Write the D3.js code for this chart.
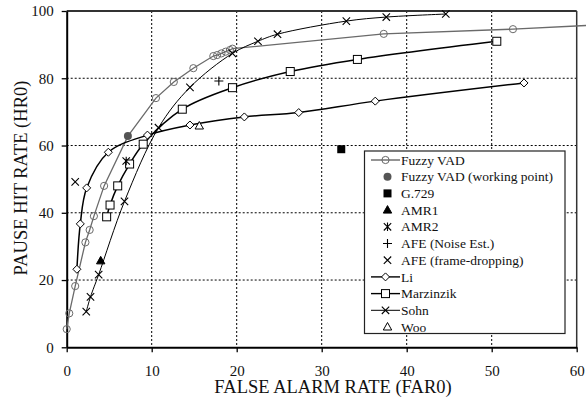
<!doctype html>
<html>
  <head>
    <script src="https://cdn.jsdelivr.net/npm/d3@7"></script>
    <style>
      body { margin: 0; background: #fff; }
      svg text { font-family: "Liberation Serif", "Times New Roman", serif; }
    </style>
  </head>
  <body>
    <script>
    // data (x = FAR0, y = HR0)
    var fuzzyVad = [[0, 5.4], [0.3, 10.1], [1.0, 18.2], [2.2, 31.2], [2.7, 34.9], [3.2, 39.0],
                    [4.4, 48.0], [10.5, 74.1], [12.6, 78.9], [14.9, 83.0], [17.25, 86.6],
                    [17.7, 86.9], [18.2, 87.4], [18.7, 87.9], [19.2, 88.4], [19.5, 88.8],
                    [37.3, 93.2], [52.5, 94.6]];
    var fuzzyTail = [62, 95.8];           // line runs past the frame
    var workingPoint = [[7.2, 62.8]];
    var g729 = [[32.3, 58.9]];
    var amr1 = [[4.0, 25.7]];
    var amr2 = [[7.0, 55.4]];
    var afeNoise = [[17.9, 79.2]];
    var afeDrop = [[1.0, 49.2]];
    var li = [[1.2, 23.2], [1.6, 36.7], [2.35, 47.4], [4.9, 58.0], [9.5, 63.1], [14.5, 66.1],
              [20.9, 68.5], [27.3, 69.8], [36.3, 73.2], [53.8, 78.6]];
    var marzinzik = [[4.7, 38.8], [5.1, 42.3], [6.0, 48.0], [7.4, 54.5], [9.0, 60.4], [13.6, 70.8],
                     [19.5, 77.2], [26.3, 82.0], [34.2, 85.6], [50.6, 91.0]];
    var sohn = [[2.3, 10.6], [2.8, 15.0], [3.76, 21.6], [6.8, 43.4], [10.8, 65.3], [14.5, 77.3],
                [19.5, 87.4], [22.5, 91.0], [24.8, 93.1], [32.9, 97.0], [37.6, 98.2], [44.6, 99.1]];
    var woo = [[15.6, 65.8]];

    var xTicks = [0, 10, 20, 30, 40, 50, 60];
    var yTicks = [0, 20, 40, 60, 80, 100];
    var xGrid = [10, 20, 30, 40, 50];
    var yGrid = [20, 40, 60, 80];

    var legendItems = [
      {name: 'Fuzzy VAD', shape: 'circle', line: true, color: '#666'},
      {name: 'Fuzzy VAD (working point)', shape: 'dot', line: false, color: '#555'},
      {name: 'G.729', shape: 'fsquare', line: false, color: '#000'},
      {name: 'AMR1', shape: 'ftriangle', line: false, color: '#000'},
      {name: 'AMR2', shape: 'asterisk', line: false, color: '#000'},
      {name: 'AFE (Noise Est.)', shape: 'plus', line: false, color: '#000'},
      {name: 'AFE (frame-dropping)', shape: 'cross', line: false, color: '#000'},
      {name: 'Li', shape: 'diamond', line: true, color: '#000'},
      {name: 'Marzinzik', shape: 'square', line: true, color: '#000'},
      {name: 'Sohn', shape: 'cross', line: true, color: '#000'},
      {name: 'Woo', shape: 'triangle', line: false, color: '#000'}
    ];

    var width = 586;
    var height = 405;
    var plotL = 66.7, plotR = 576.7, plotT = 11, plotB = 347.3;
    var serif = '"Liberation Serif", "Times New Roman", serif';

    var svg = d3.select('body')
              .append('svg')
              .attr('width', width)
              .attr('height', height)
              .attr('font-family', serif);

    var x = d3.scaleLinear().domain([0, 60]).range([plotL, plotR]);
    var y = d3.scaleLinear().domain([0, 100]).range([plotB, plotT]);

    // grid
    svg.selectAll('.vgrid')
      .data(xGrid)
      .enter()
      .append('line')
        .attr('x1', function(d) { return x(d); })
        .attr('x2', function(d) { return x(d); })
        .attr('y1', plotT)
        .attr('y2', plotB)
        .attr('stroke', '#000')
        .attr('stroke-width', 1)
        .attr('stroke-dasharray', '2,2');

    svg.selectAll('.hgrid')
      .data(yGrid)
      .enter()
      .append('line')
        .attr('x1', plotL)
        .attr('x2', plotR)
        .attr('y1', function(d) { return y(d); })
        .attr('y2', function(d) { return y(d); })
        .attr('stroke', '#000')
        .attr('stroke-width', 1)
        .attr('stroke-dasharray', '2,2');

    // frame top / right
    svg.append('line')
      .attr('x1', plotL).attr('x2', plotR)
      .attr('y1', plotT).attr('y2', plotT)
      .attr('stroke', '#333').attr('stroke-width', 1.8);
    svg.append('line')
      .attr('x1', plotR).attr('x2', plotR)
      .attr('y1', plotT).attr('y2', plotB)
      .attr('stroke', '#333').attr('stroke-width', 1.5);

    // axes
    var xAxis = d3.axisBottom(x).tickValues(xTicks).tickSize(5).tickSizeOuter(0).tickPadding(13);
    var yAxis = d3.axisLeft(y).tickValues(yTicks).tickSize(5).tickSizeOuter(0).tickPadding(8);

    var gx = svg.append('g')
      .attr('transform', 'translate(0,' + plotB + ')')
      .call(xAxis);
    var gy = svg.append('g')
      .attr('transform', 'translate(' + plotL + ',0)')
      .call(yAxis);

    [gx, gy].forEach(function(g) {
      g.attr('font-family', serif).attr('font-size', 15);
      g.select('.domain').attr('stroke', '#000').attr('stroke-width', 2);
      g.selectAll('.tick line').attr('stroke', '#000').attr('stroke-width', 1.3);
      g.selectAll('.tick text').attr('fill', '#111');
    });

    // axis titles
    svg.append('text')
      .attr('x', 333)
      .attr('y', 393)
      .attr('text-anchor', 'middle')
      .attr('fill', '#111')
      .attr('font-size', 18.5)
      .text('FALSE ALARM RATE (FAR0)');

    svg.append('text')
      .attr('transform', 'translate(27,178) rotate(-90)')
      .attr('text-anchor', 'middle')
      .attr('fill', '#111')
      .attr('font-size', 18.5)
      .text('PAUSE HIT RATE (HR0)');

    // marker drawing
    function drawMarker(g, shape, cx, cy, color) {
      var s = 3.7;
      if (shape === 'circle') {
        g.append('circle').attr('cx', cx).attr('cy', cy).attr('r', 3.6)
          .attr('fill', 'none').attr('stroke', color).attr('stroke-width', 1);
      } else if (shape === 'dot') {
        g.append('circle').attr('cx', cx).attr('cy', cy).attr('r', 4)
          .attr('fill', color);
      } else if (shape === 'fsquare') {
        g.append('rect').attr('x', cx - 4).attr('y', cy - 4).attr('width', 8).attr('height', 8)
          .attr('fill', color);
      } else if (shape === 'square') {
        g.append('rect').attr('x', cx - 4).attr('y', cy - 4).attr('width', 8).attr('height', 8)
          .attr('fill', '#fff').attr('stroke', color).attr('stroke-width', 1);
      } else if (shape === 'ftriangle' || shape === 'triangle') {
        g.append('path')
          .attr('d', 'M' + cx + ',' + (cy - 4.5) + 'L' + (cx + 4.2) + ',' + (cy + 3) + 'L' + (cx - 4.2) + ',' + (cy + 3) + 'Z')
          .attr('fill', shape === 'ftriangle' ? color : '#fff')
          .attr('stroke', color).attr('stroke-width', 1);
      } else if (shape === 'diamond') {
        g.append('path')
          .attr('d', 'M' + cx + ',' + (cy - 4) + 'L' + (cx + 4) + ',' + cy + 'L' + cx + ',' + (cy + 4) + 'L' + (cx - 4) + ',' + cy + 'Z')
          .attr('fill', '#fff').attr('stroke', color).attr('stroke-width', 1);
      } else if (shape === 'cross' || shape === 'asterisk') {
        g.append('path')
          .attr('d', 'M' + (cx - s) + ',' + (cy - s) + 'L' + (cx + s) + ',' + (cy + s) +
                     'M' + (cx - s) + ',' + (cy + s) + 'L' + (cx + s) + ',' + (cy - s) +
                     (shape === 'asterisk' ? 'M' + cx + ',' + (cy - s - 0.5) + 'L' + cx + ',' + (cy + s + 0.5) : ''))
          .attr('fill', 'none').attr('stroke', color).attr('stroke-width', 1.1);
      } else if (shape === 'plus') {
        g.append('path')
          .attr('d', 'M' + (cx - 4.5) + ',' + cy + 'L' + (cx + 4.5) + ',' + cy +
                     'M' + cx + ',' + (cy - 4.5) + 'L' + cx + ',' + (cy + 4.5))
          .attr('fill', 'none').attr('stroke', color).attr('stroke-width', 1.1);
      }
    }

    var smooth = d3.line()
      .x(function(d) { return x(d[0]); })
      .y(function(d) { return y(d[1]); })
      .curve(d3.curveCatmullRom.alpha(0.5));

    var straight = d3.line()
      .x(function(d) { return x(d[0]); })
      .y(function(d) { return y(d[1]); });

    // series lines
    var fuzzyLine = fuzzyVad.concat(workingPoint, [fuzzyTail]).sort(function(a, b) { return a[0] - b[0]; });
    svg.append('path').datum(fuzzyLine)
      .attr('fill', 'none').attr('stroke', '#6a6a6a').attr('stroke-width', 1.3)
      .attr('d', straight);

    svg.append('path').datum(li)
      .attr('fill', 'none').attr('stroke', '#000').attr('stroke-width', 1.5)
      .attr('d', smooth);

    svg.append('path').datum(marzinzik)
      .attr('fill', 'none').attr('stroke', '#000').attr('stroke-width', 1.5)
      .attr('d', smooth);

    svg.append('path').datum(sohn)
      .attr('fill', 'none').attr('stroke', '#000').attr('stroke-width', 1)
      .attr('d', smooth);

    // markers
    var markerSets = [
      [fuzzyVad, 'circle', '#6a6a6a'],
      [li, 'diamond', '#000'],
      [marzinzik, 'square', '#000'],
      [sohn, 'cross', '#000'],
      [workingPoint, 'dot', '#555'],
      [g729, 'fsquare', '#000'],
      [amr1, 'ftriangle', '#000'],
      [amr2, 'asterisk', '#000'],
      [afeNoise, 'plus', '#000'],
      [afeDrop, 'cross', '#000'],
      [woo, 'triangle', '#000']
    ];
    var mg = svg.append('g');
    markerSets.forEach(function(set) {
      set[0].forEach(function(d) {
        drawMarker(mg, set[1], x(d[0]), y(d[1]), set[2]);
      });
    });

    // legend
    var lg = svg.append('g');
    lg.append('rect')
      .attr('x', 364.5).attr('y', 151)
      .attr('width', 200.5).attr('height', 182.5)
      .attr('fill', '#fff').attr('stroke', '#222').attr('stroke-width', 1.2);

    legendItems.forEach(function(item, i) {
      var cy = 160 + i * 16.7;
      if (item.line) {
        lg.append('line')
          .attr('x1', 371).attr('x2', 400)
          .attr('y1', cy).attr('y2', cy)
          .attr('stroke', item.color).attr('stroke-width', item.name === 'Sohn' ? 1 : 1.4);
        drawMarker(lg, item.shape, 385.5, cy, item.color);
      } else {
        drawMarker(lg, item.shape, 387.5, cy, item.color);
      }
      lg.append('text')
        .attr('x', 401)
        .attr('y', cy + 4.6)
        .attr('fill', '#111')
        .attr('font-size', 13.5)
        .text(item.name);
    });
    </script>
  </body>
</html>
